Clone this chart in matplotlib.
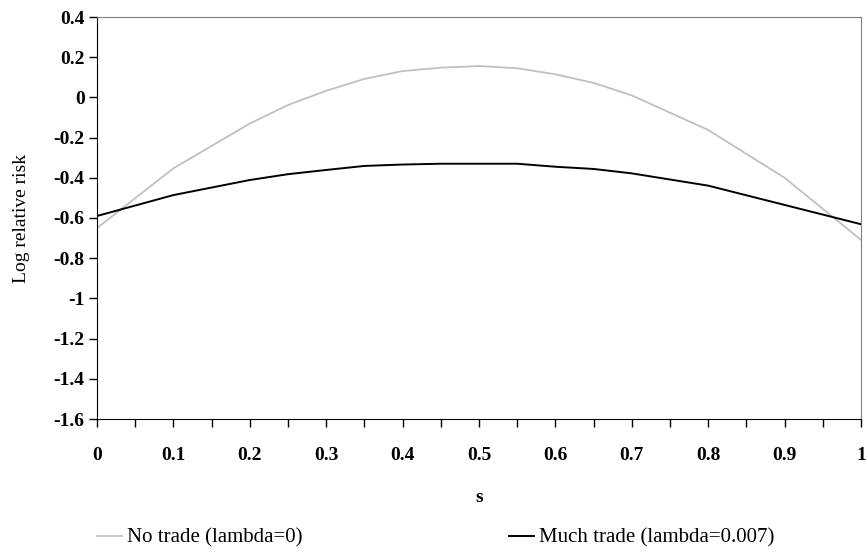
import numpy as np
import matplotlib
matplotlib.use('Agg')
import matplotlib.pyplot as plt

s = [0, 0.1, 0.2, 0.25, 0.3, 0.35, 0.4, 0.45, 0.5, 0.55, 0.6, 0.65, 0.7, 0.8, 0.9, 1.0]
no_trade = [-0.65, -0.353, -0.13, -0.038, 0.033, 0.092, 0.131, 0.148, 0.156, 0.145,
            0.115, 0.072, 0.01, -0.162, -0.40, -0.709]
much_trade = [-0.59, -0.486, -0.411, -0.382, -0.361, -0.341, -0.334, -0.33, -0.33, -0.33,
              -0.345, -0.356, -0.378, -0.439, -0.535, -0.631]

yticks = np.round(np.arange(-1.6, 0.41, 0.2), 1)
ylabels = ['-1.6', '-1.4', '-1.2', '-1', '-0.8', '-0.6', '-0.4', '-0.2', '0', '0.2', '0.4']
xlabels = ['0', '0.1', '0.2', '0.3', '0.4', '0.5', '0.6', '0.7', '0.8', '0.9', '1']

plt.rcParams['font.family'] = ['Liberation Serif', 'DejaVu Serif']

fig = plt.figure(figsize=(8.66, 5.54), dpi=100)
ax = fig.add_axes([97/866, 1 - 419/554, (861-97)/866, (419-17)/554])

ax.plot(s, no_trade, color='#c0c0c0', lw=1.3, label='No trade (lambda=0)')
ax.plot(s, much_trade, color='black', lw=1.4, label='Much trade (lambda=0.007)')

ax.set_xlim(0, 1)
ax.set_ylim(-1.6, 0.4)
ax.set_yticks(yticks)
ax.set_yticklabels(ylabels, fontsize=14, fontweight='bold')
# minor ticks every 0.05, labels only on the tenths
ax.set_xticks(np.round(np.arange(0, 1.01, 0.05), 2))
ax.set_xticklabels([xlabels[i // 2] if i % 2 == 0 else '' for i in range(21)],
                   fontsize=14, fontweight='bold')
ax.tick_params(axis='both', direction='out', length=6, width=1, color='black')
ax.tick_params(axis='x', pad=14)
ax.tick_params(axis='y', pad=3)

for side in ['top', 'right']:
    ax.spines[side].set_color('#808080')
for side in ['left', 'bottom']:
    ax.spines[side].set_color('black')

ax.set_xlabel('s', fontsize=14, fontweight='bold', labelpad=18)
ax.set_ylabel('Log relative risk', fontsize=14)
ax.yaxis.set_label_coords(-67/764, 0.5)

fig.legend(loc='center left', bbox_to_anchor=(78/866, 1 - 538/554), ncol=2, frameon=False,
           fontsize=15, handlelength=1.2, handletextpad=0.25, columnspacing=9.9)

fig.savefig('out.png', dpi=100)
